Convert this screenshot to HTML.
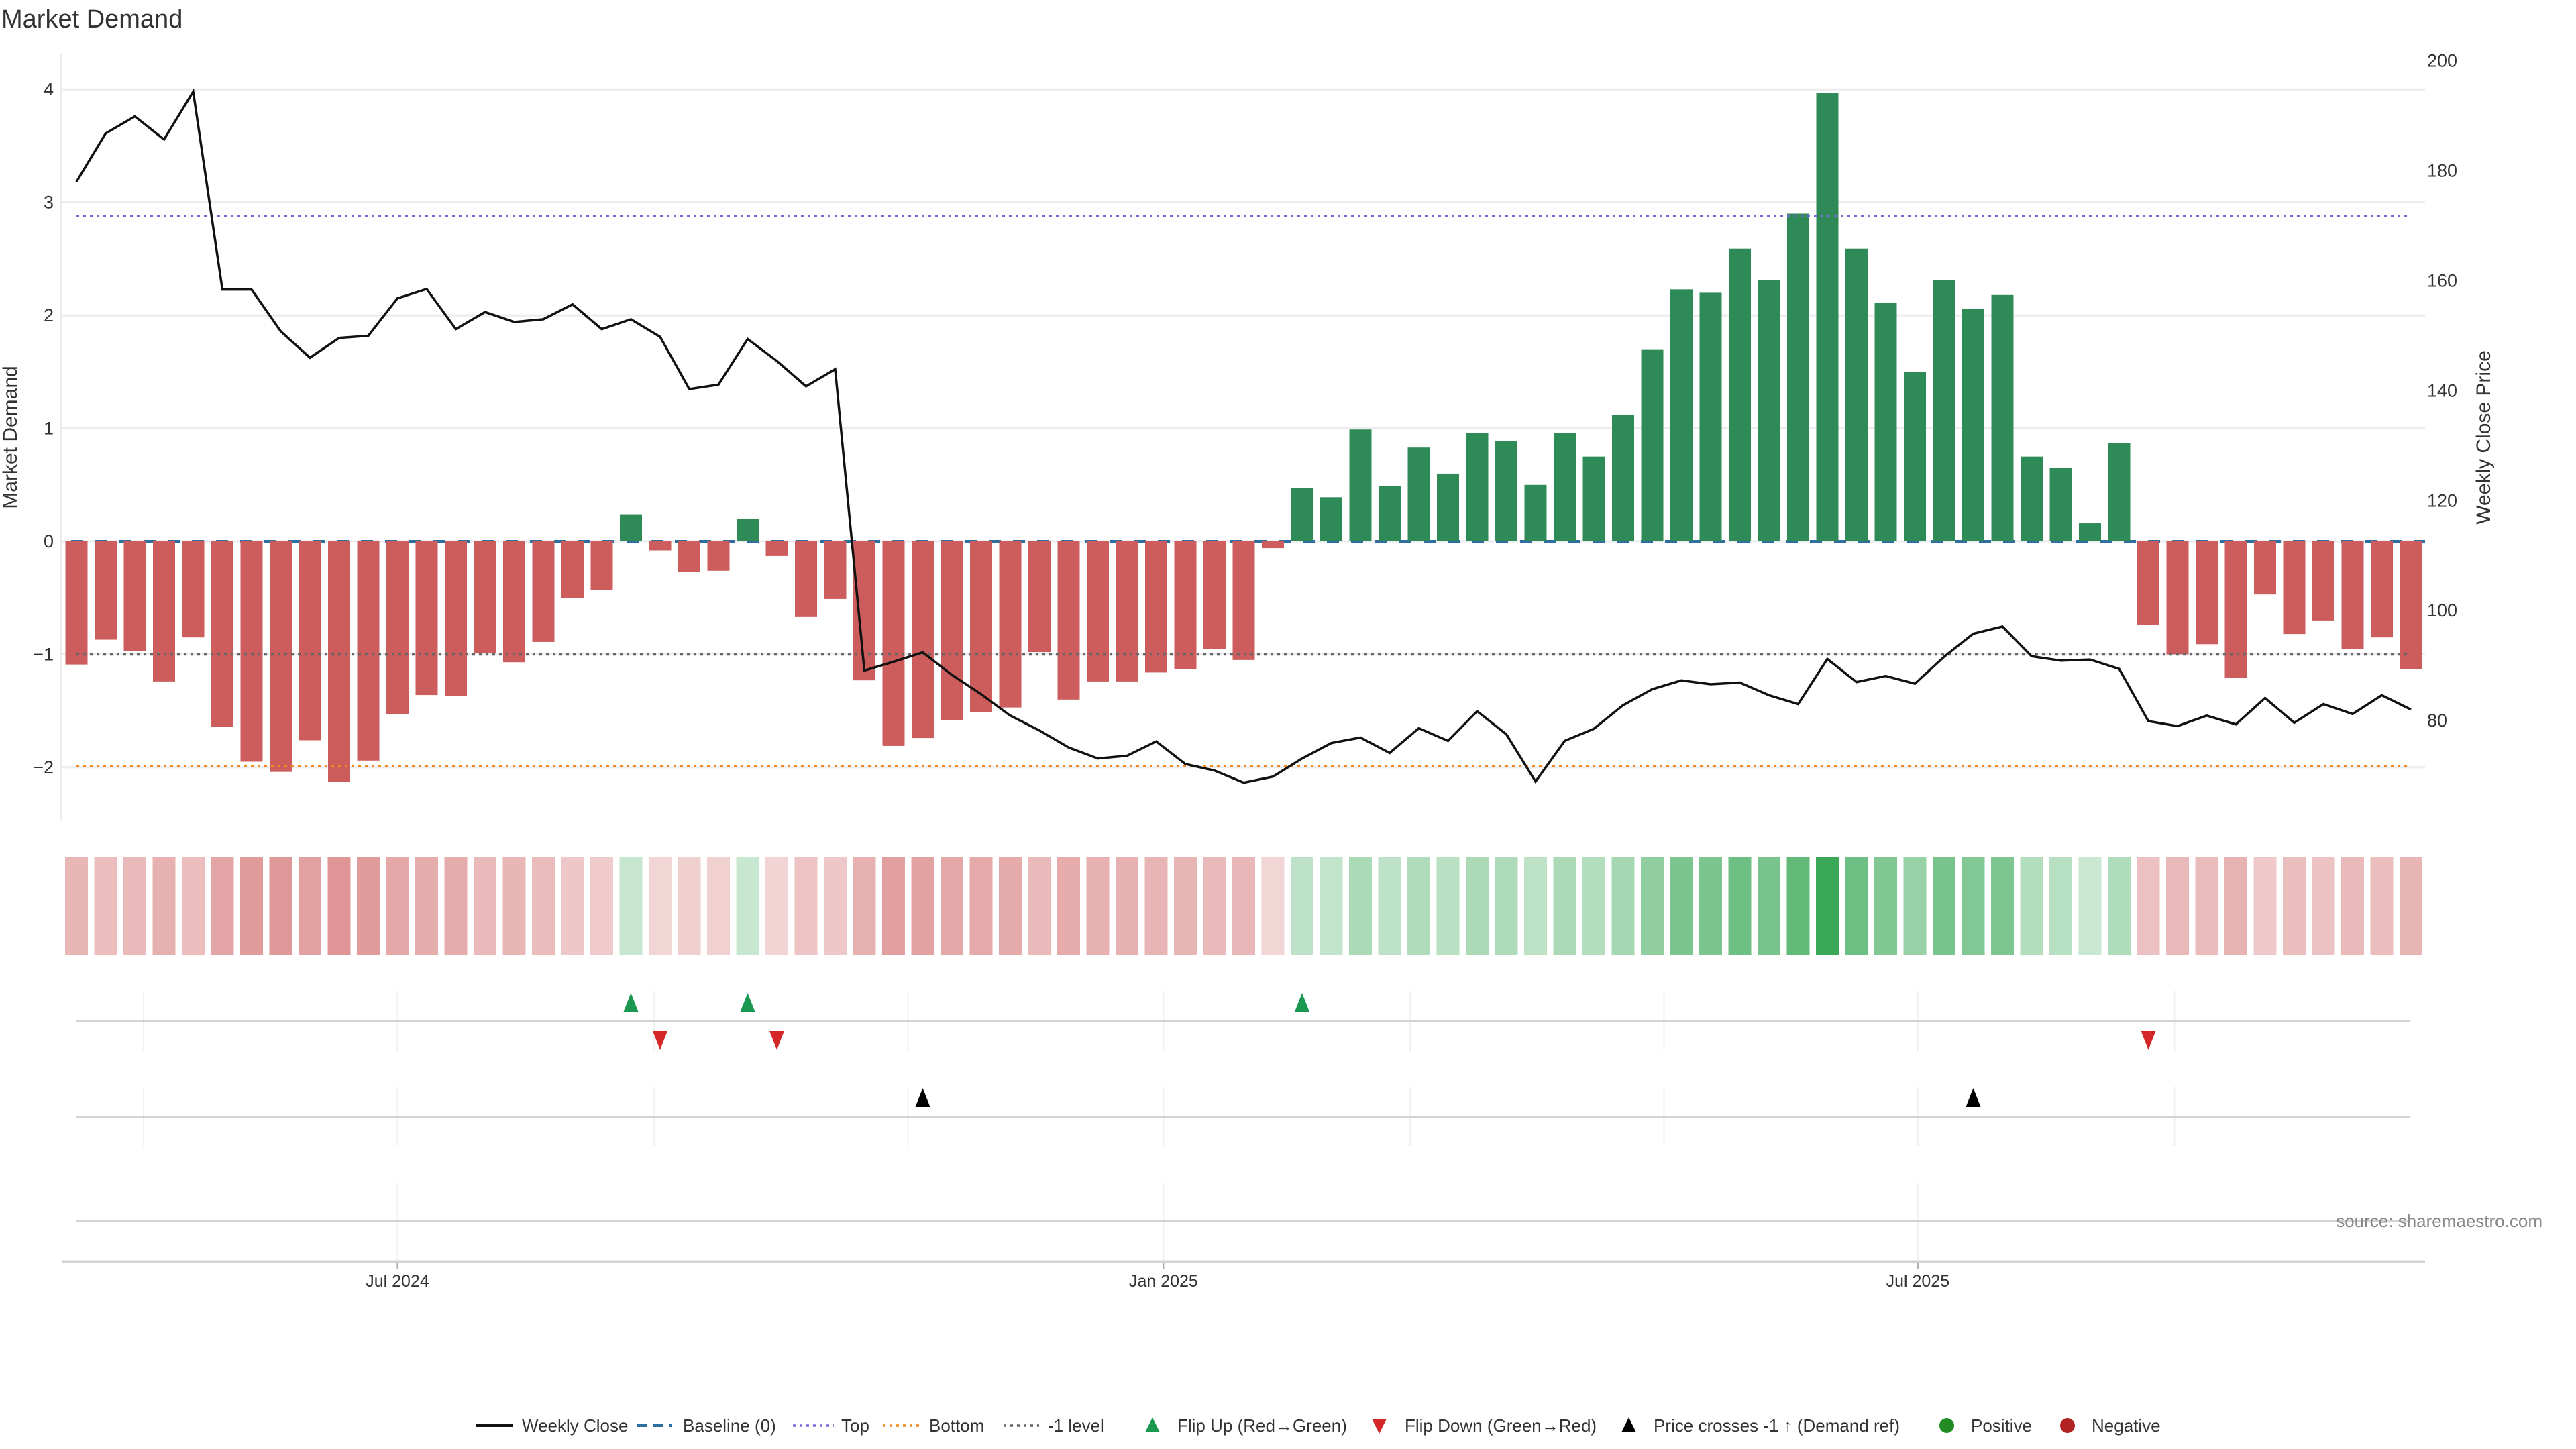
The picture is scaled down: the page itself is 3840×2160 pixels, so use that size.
<!DOCTYPE html>
<html><head><meta charset="utf-8">
<style>
html,body{margin:0;padding:0;background:#fff;}
svg{display:block;font-family:"Liberation Sans","DejaVu Sans",sans-serif;}
</style></head>
<body>
<svg id="chart" width="3840" height="2160" viewBox="0 0 3840 2160" xmlns="http://www.w3.org/2000/svg">
<text x="2" y="41" font-size="38" fill="#333">Market Demand</text>
<g id="grid"></g>
<g id="lower"></g>
<g id="bars"></g>
<g id="refs"></g>
<g id="line"></g>
<g id="axes"></g>
<g id="legend"></g>
</svg>
<script>
const demand = [-1.09,-0.87,-0.97,-1.24,-0.85,-1.64,-1.95,-2.04,-1.76,-2.13,-1.94,-1.53,-1.36,-1.37,-0.99,-1.07,-0.89,-0.50,-0.43,0.24,-0.08,-0.27,-0.26,0.20,-0.13,-0.67,-0.51,-1.23,-1.81,-1.74,-1.58,-1.51,-1.47,-0.98,-1.40,-1.24,-1.24,-1.16,-1.13,-0.95,-1.05,-0.06,0.47,0.39,0.99,0.49,0.83,0.60,0.96,0.89,0.50,0.96,0.75,1.12,1.70,2.23,2.20,2.59,2.31,2.90,3.97,2.59,2.11,1.50,2.31,2.06,2.18,0.75,0.65,0.16,0.87,-0.74,-1.00,-0.91,-1.21,-0.47,-0.82,-0.70,-0.95,-0.85,-1.13];
const price = [178.0,186.8,189.9,185.7,194.4,158.4,158.4,150.8,146.0,149.6,150.0,156.8,158.5,151.2,154.3,152.5,153.0,155.7,151.2,153.0,149.8,140.3,141.1,149.4,145.4,140.8,143.9,89.1,90.7,92.4,88.3,84.8,80.9,78.2,75.1,73.1,73.6,76.2,72.1,70.9,68.7,69.8,73.1,75.9,76.9,74.1,78.6,76.3,81.7,77.5,68.9,76.3,78.5,82.8,85.7,87.3,86.6,86.9,84.6,83.0,91.2,87.0,88.1,86.7,91.6,95.8,97.1,91.7,90.9,91.1,89.4,79.9,79.0,80.9,79.3,84.1,79.6,83.0,81.2,84.6,82.0];
const leftTicks = [-2,-1,0,1,2,3,4];
const rightTicks = [80,100,120,140,160,180,200];
const refTop = 2.88, refBottom = -1.99, refMinus1 = -1;
const flipUp = [19,23,42];
const flipDown = [20,24,71];
const priceCross = [29,65];
const monthTicks = [{i:11,label:"Jul 2024"},{i:37.25,label:"Jan 2025"},{i:63.1,label:"Jul 2025"}];
const monthGrid = [2.3,11,19.8,28.5,37.25,45.7,54.4,63.1,71.9];

const NS="http://www.w3.org/2000/svg";
function mk(tag,attrs,parent){const e=document.createElementNS(NS,tag);for(const k in attrs)e.setAttribute(k,attrs[k]);parent.appendChild(e);return e;}
const X=i=>114+i*43.5;
const Y=v=>807-v*168.45;
const YP=p=>1074.1-(p-80)*8.195;
const G=id=>document.getElementById(id);

leftTicks.forEach(t=>{
  const l=mk('line',{x1:91,x2:3615,y1:Y(t),y2:Y(t),stroke:'#ebebf0','stroke-width':3},G('grid'));
  
  
  const tx=mk('text',{x:80,y:Y(t)+9,'font-size':27,fill:'#333','text-anchor':'end'},G('axes'));
  tx.textContent=(t<0?'\u2212':'')+Math.abs(t);
  
  
});
rightTicks.forEach(t=>{
  const tx=mk('text',{x:3618,y:YP(t)+9,'font-size':27,fill:'#333'},G('axes'));
  tx.textContent=t;
  
  
});
let a=mk('line',{x1:91,x2:91,y1:80,y2:1224,stroke:'#ebebf0','stroke-width':2},G('axes'));


let t1=mk('text',{x:0,y:0,'font-size':30,fill:'#333','text-anchor':'middle',transform:'translate(25,652) rotate(-90)'},G('axes'));
t1.textContent='Market Demand';


let t2=mk('text',{x:0,y:0,'font-size':30,fill:'#333','text-anchor':'middle',transform:'translate(3712,652) rotate(-90)'},G('axes'));
t2.textContent='Weekly Close Price';



let bl=mk('line',{x1:106,x2:3615,y1:Y(0),y2:Y(0),stroke:'#2e6fa0','stroke-width':4,'stroke-dasharray':'18,18'},G('grid'));



const maxAbs=Math.max(...demand.map(Math.abs));
function mix(base,f){return 'rgb('+base.map(c=>Math.round(255-(255-c)*f)).join(',')+')';}
demand.forEach((v,i)=>{
  const b=mk('rect',{x:X(i)-16.5,width:33,y:Math.min(Y(v),Y(0)),height:Math.abs(Y(v)-Y(0)),fill:v>=0?'#2e8b57':'#cd5c5c'},G('bars'));
  
  
  const f=0.24+0.76*Math.abs(v)/maxAbs;
  const h=mk('rect',{x:X(i)-17,width:34,y:1278,height:146,fill:v>=0?mix([58,168,86],f):mix([205,92,92],f)},G('bars'));
  
  
});

[[refTop,'#7b68d8','top-line'],[refBottom,'#f0891e','bottom-line'],[refMinus1,'#666','minus1-level-line']].forEach(r=>{
  const l=mk('line',{x1:114,x2:3593,y1:Y(r[0]),y2:Y(r[0]),stroke:r[1],'stroke-width':3.5,'stroke-dasharray':'4,6'},G('refs'));
  
  
});

const pl=mk('polyline',{points:price.map((p,i)=>X(i)+','+YP(p)).join(' '),fill:'none',stroke:'#111','stroke-width':3.5,'stroke-linejoin':'miter'},G('line'));



const L=G('lower');
monthGrid.forEach(m=>{
  [[1478,1567],[1620,1708]].forEach(r=>{
    const g=mk('line',{x1:X(m),x2:X(m),y1:r[0],y2:r[1],stroke:'#eef0f3','stroke-width':2},L);
    
    
  });
});
monthTicks.forEach(m=>{
  const g=mk('line',{x1:X(m.i),x2:X(m.i),y1:1763,y2:1881,stroke:'#eef0f3','stroke-width':2},L);
  
  
  const tk=mk('line',{x1:X(m.i),x2:X(m.i),y1:1881,y2:1892,stroke:'#aaa','stroke-width':2},L);
  
  
  const t=mk('text',{x:X(m.i),y:1918,'font-size':25,fill:'#333','text-anchor':'middle'},L);
  t.textContent=m.label;
  
  
});
[[1522,114,3593],[1665,114,3593],[1820,114,3593],[1881,92,3615]].forEach(r=>{
  const l=mk('line',{x1:r[1],x2:r[2],y1:r[0],y2:r[0],stroke:'#d3d3d3','stroke-width':3},L);
  
  
});
function tri(cx,cy,up,fill,name){
  const p=up?`${cx-11},${cy+14} ${cx+11},${cy+14} ${cx},${cy-14}`:`${cx-11},${cy-14} ${cx+11},${cy-14} ${cx},${cy+14}`;
  const e=mk('polygon',{points:p,fill:fill},L);
  
  
}
flipUp.forEach(i=>tri(X(i),1494,true,'#1a9850','flip-up-marker'));
flipDown.forEach(i=>tri(X(i),1551,false,'#d62728','flip-down-marker'));
priceCross.forEach(i=>tri(X(i),1636,true,'#000','price-cross-marker'));
const src=mk('text',{x:3790,y:1829,'font-size':26,fill:'#888','text-anchor':'end'},L);
src.textContent='source: sharemaestro.com';



const LG=G('legend');const ly=2125;
function ltext(x,s){const t=mk('text',{x:x,y:ly+9,'font-size':26,fill:'#333'},LG);t.textContent=s;}
function lline(x1,x2,col,dash,w,name){const l=mk('line',{x1:x1,x2:x2,y1:ly,y2:ly,stroke:col,'stroke-width':w,'stroke-dasharray':dash},LG);}
lline(710,765,'#111','none',4,'legend-weekly-close');ltext(778,'Weekly Close');
lline(950,1002,'#2e6fa0','14,10',4,'legend-baseline');ltext(1018,'Baseline (0)');
lline(1182,1243,'#7b68d8','4,6',3.5,'legend-top');ltext(1254,'Top');
lline(1316,1373,'#f0891e','4,6',3.5,'legend-bottom');ltext(1385,'Bottom');
lline(1496,1549,'#666','4,6',3.5,'legend-minus1');ltext(1562,'-1 level');
function ltri(cx,up,fill,name){const p=up?`${cx-11},${ly+10} ${cx+11},${ly+10} ${cx},${ly-12}`:`${cx-11},${ly-10} ${cx+11},${ly-10} ${cx},${ly+12}`;const e=mk('polygon',{points:p,fill:fill},LG);}
ltri(1718,true,'#1a9850','legend-flip-up');ltext(1755,'Flip Up (Red\u2192Green)');
ltri(2056,false,'#d62728','legend-flip-down');ltext(2094,'Flip Down (Green\u2192Red)');
ltri(2428,true,'#000','legend-price-cross');ltext(2465,'Price crosses -1 \u2191 (Demand ref)');
let c1=mk('circle',{cx:2902,cy:ly,r:11,fill:'#228b22'},LG);ltext(2938,'Positive');
let c2=mk('circle',{cx:3082,cy:ly,r:11,fill:'#b22222'},LG);ltext(3118,'Negative');
</script>
</body></html>
